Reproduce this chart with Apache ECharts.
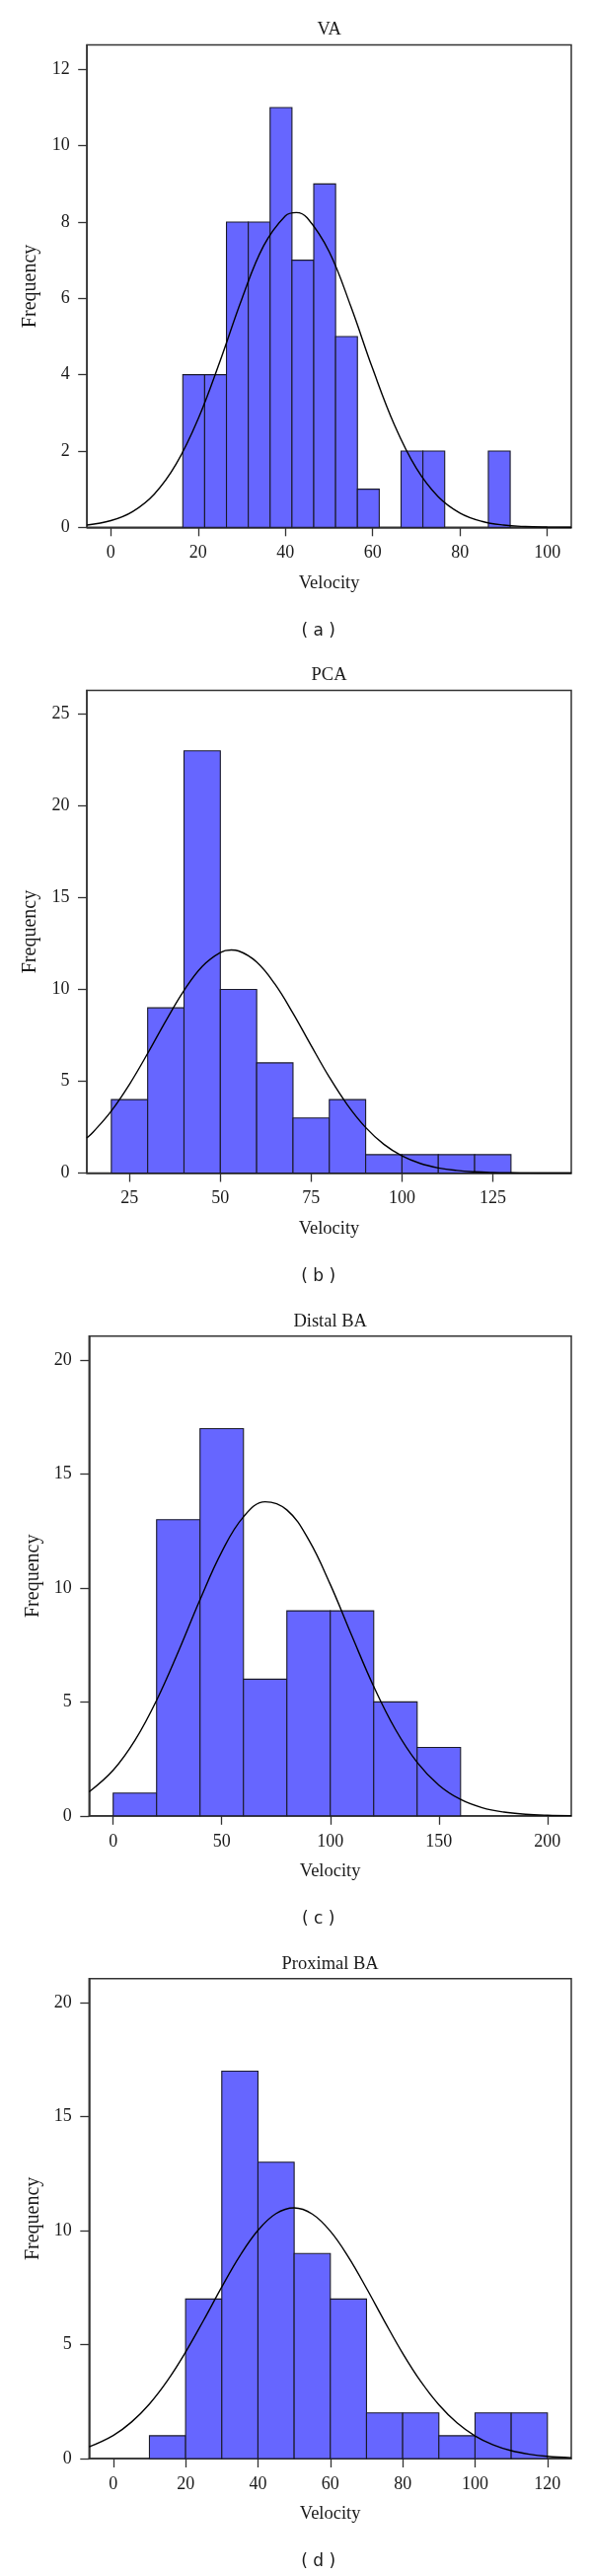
<!DOCTYPE html>
<html>
<head>
<meta charset="utf-8">
<script src="https://cdn.jsdelivr.net/npm/echarts@6/dist/echarts.min.js"></script>
<style>
html,body{margin:0;padding:0;background:#fff;}
#chart{width:600px;height:2610px;}
</style>
</head>
<body>
<div id="chart"></div>
<script>
// ---------------- data ----------------
const titles = ['VA', 'PCA', 'Distal BA', 'Proximal BA'];
const captions = ['( a )', '( b )', '( c )', '( d )'];

// VA
const vaEdges = [16.5, 21.5, 26.5, 31.5, 36.5, 41.5, 46.5, 51.5, 56.5, 61.5, 66.5, 71.5, 76.5, 81.5, 86.5, 91.5];
const vaCounts = [4, 4, 8, 8, 11, 7, 9, 5, 1, 0, 2, 2, 0, 0, 2];
const vaCurveX = [-5.45, 0, 5, 10, 15, 20, 25, 30, 35, 40, 42.5, 45, 50, 55, 60, 65, 70, 75, 80, 85, 90, 95, 100, 105.5];
const vaCurveY = [0.060, 0.175, 0.413, 0.875, 1.664, 2.840, 4.349, 5.979, 7.375, 8.164, 8.25, 8.111, 7.232, 5.787, 4.156, 2.679, 1.549, 0.804, 0.375, 0.157, 0.059, 0.020, 0.006, 0.001];
const vaXTicks = [0, 20, 40, 60, 80, 100];
const vaYTicks = [0, 2, 4, 6, 8, 10, 12];
const vaXRange = [-5.45, 105.5];
const vaYRange = [0, 12.64];

// PCA
const pcaEdges = [20, 30, 40, 50, 60, 70, 80, 90, 100, 110, 120, 130];
const pcaCounts = [4, 9, 23, 10, 6, 3, 4, 1, 1, 1, 1];
const pcaCurveX = [13.25, 15, 20, 25, 30, 35, 40, 45, 50, 53, 55, 60, 65, 70, 75, 80, 85, 90, 95, 100, 105, 110, 115, 120, 125, 130, 135, 140, 146.6];
const pcaCurveY = [1.905, 2.233, 3.384, 4.836, 6.519, 8.290, 9.946, 11.254, 12.015, 12.15, 12.099, 11.494, 10.300, 8.707, 6.943, 5.222, 3.706, 2.481, 1.566, 0.933, 0.524, 0.278, 0.139, 0.065, 0.029, 0.012, 0.005, 0.002, 0.000];
const pcaXTicks = [25, 50, 75, 100, 125];
const pcaYTicks = [0, 5, 10, 15, 20, 25];
const pcaXRange = [13.25, 146.6];
const pcaYRange = [0, 26.29];

// Distal BA
const distalEdges = [0, 20, 40, 60, 80, 100, 120, 140, 160];
const distalCounts = [1, 13, 17, 6, 9, 9, 5, 3];
const distalCurveX = [-11.1, 0, 10, 20, 30, 40, 50, 60, 70, 80, 90, 100, 110, 120, 130, 140, 150, 160, 170, 180, 190, 200, 211];
const distalCurveY = [1.052, 2.005, 3.311, 5.073, 7.205, 9.490, 11.591, 13.128, 13.788, 13.429, 12.128, 10.157, 7.888, 5.680, 3.794, 2.349, 1.349, 0.718, 0.355, 0.162, 0.069, 0.027, 0.008];
const distalXTicks = [0, 50, 100, 150, 200];
const distalYTicks = [0, 5, 10, 15, 20];
const distalXRange = [-11.1, 211];
const distalYRange = [0, 21.06];

// Proximal BA
const proximalEdges = [10, 20, 30, 40, 50, 60, 70, 80, 90, 100, 110, 120];
const proximalCounts = [1, 7, 17, 13, 9, 7, 2, 2, 1, 2, 2];
const proximalCurveX = [-6.68, 0, 5, 10, 15, 20, 25, 30, 35, 40, 45, 50, 55, 60, 65, 70, 75, 80, 85, 90, 95, 100, 105, 110, 115, 120, 126.6];
const proximalCurveY = [0.512, 1.013, 1.596, 2.395, 3.426, 4.673, 6.074, 7.528, 8.894, 10.014, 10.750, 11.0, 10.729, 9.976, 8.842, 7.470, 6.017, 4.619, 3.380, 2.358, 1.569, 0.994, 0.601, 0.346, 0.190, 0.099, 0.039];
const proximalXTicks = [0, 20, 40, 60, 80, 100, 120];
const proximalYTicks = [0, 5, 10, 15, 20];
const proximalXRange = [-6.68, 126.6];
const proximalYRange = [0, 21.06];

// ---------------- layout ----------------
const layout = [
  {left: 88.2, right: 579, top: 45.6, bottom: 534.3},
  {left: 88.0, right: 579, top: 699.6, bottom: 1188.5},
  {left: 90.3, right: 579, top: 1353.8, bottom: 1839.8},
  {left: 90.3, right: 579, top: 2004.7, bottom: 2491.0}
];

const panels = [
  {edges: vaEdges, counts: vaCounts, cx: vaCurveX, cy: vaCurveY, xt: vaXTicks, yt: vaYTicks, xr: vaXRange, yr: vaYRange},
  {edges: pcaEdges, counts: pcaCounts, cx: pcaCurveX, cy: pcaCurveY, xt: pcaXTicks, yt: pcaYTicks, xr: pcaXRange, yr: pcaYRange},
  {edges: distalEdges, counts: distalCounts, cx: distalCurveX, cy: distalCurveY, xt: distalXTicks, yt: distalYTicks, xr: distalXRange, yr: distalYRange},
  {edges: proximalEdges, counts: proximalCounts, cx: proximalCurveX, cy: proximalCurveY, xt: proximalXTicks, yt: proximalYTicks, xr: proximalXRange, yr: proximalYRange}
];

const SERIF = '"Liberation Serif", "Times New Roman", serif';
const SANS = '"DejaVu Sans", Verdana, sans-serif';
const INK = '#1a1a1a';
const FRAME = '#333';

const grids = [], xAxes = [], yAxes = [], series = [], titleList = [];

panels.forEach((p, i) => {
  const L = layout[i];
  grids.push({
    left: L.left, top: L.top, width: L.right - L.left, height: L.bottom - L.top,
    show: true, borderColor: FRAME, borderWidth: 1.5, backgroundColor: 'transparent',
    containLabel: false
  });
  xAxes.push({
    gridIndex: i, type: 'value', min: p.xr[0], max: p.xr[1],
    name: 'Velocity', nameLocation: 'middle', nameGap: 47,
    nameTextStyle: {fontFamily: SERIF, fontSize: 18.5, color: INK},
    axisLine: {show: true, onZero: false, lineStyle: {color: FRAME, width: 1.5}},
    axisTick: {show: true, length: 9, customValues: p.xt, lineStyle: {color: FRAME, width: 1.3}},
    axisLabel: {customValues: p.xt, margin: 17, fontFamily: SERIF, fontSize: 18, color: INK},
    splitLine: {show: false}
  });
  yAxes.push({
    gridIndex: i, type: 'value', min: p.yr[0], max: p.yr[1],
    name: 'Frequency', nameLocation: 'middle', nameGap: 47,
    nameTextStyle: {fontFamily: SERIF, fontSize: 20, color: INK},
    axisLine: {show: true, onZero: false, lineStyle: {color: FRAME, width: 1.5}},
    axisTick: {show: true, length: 9, customValues: p.yt, lineStyle: {color: FRAME, width: 1.3}},
    axisLabel: {customValues: p.yt, margin: 17.5, fontFamily: SERIF, fontSize: 18, color: INK},
    splitLine: {show: false}
  });
  const bins = [];
  for (let k = 0; k < p.counts.length; k++) bins.push([p.edges[k], p.edges[k + 1], p.counts[k]]);
  series.push({
    type: 'custom', xAxisIndex: i, yAxisIndex: i, data: bins,
    encode: {x: [0, 1], y: 2},
    renderItem: function (params, api) {
      const h = api.value(2);
      if (!h) return null;
      const a = api.coord([api.value(0), h]);
      const b = api.coord([api.value(1), 0]);
      return {
        type: 'rect',
        shape: {x: a[0], y: a[1], width: b[0] - a[0], height: b[1] - a[1]},
        style: {fill: '#6666ff', stroke: '#1a1a2a', lineWidth: 1.1}
      };
    },
    z: 2, silent: true
  });
  series.push({
    type: 'line', xAxisIndex: i, yAxisIndex: i,
    data: p.cx.map((x, k) => [x, p.cy[k]]),
    smooth: 0.4, showSymbol: false, symbol: 'none',
    lineStyle: {color: '#000', width: 1.4},
    z: 3, silent: true, clip: true
  });
  titleList.push({
    text: titles[i], left: (L.left + L.right) / 2, top: L.top - 15,
    textAlign: 'center', textVerticalAlign: 'middle', padding: 0,
    textStyle: {fontFamily: SERIF, fontSize: 18.5, fontWeight: 'normal', color: INK}
  });
  titleList.push({
    text: captions[i], left: 322.7, top: L.bottom + 104.8,
    textAlign: 'center', textVerticalAlign: 'middle', padding: 0,
    textStyle: {fontFamily: SANS, fontSize: 17, fontWeight: 'normal', color: INK}
  });
});

const chart = echarts.init(document.getElementById('chart'), null, {renderer: 'canvas', width: 600, height: 2610});
chart.setOption({
  animation: false,
  backgroundColor: '#fff',
  title: titleList,
  grid: grids,
  xAxis: xAxes,
  yAxis: yAxes,
  series: series
});
</script>
</body>
</html>
